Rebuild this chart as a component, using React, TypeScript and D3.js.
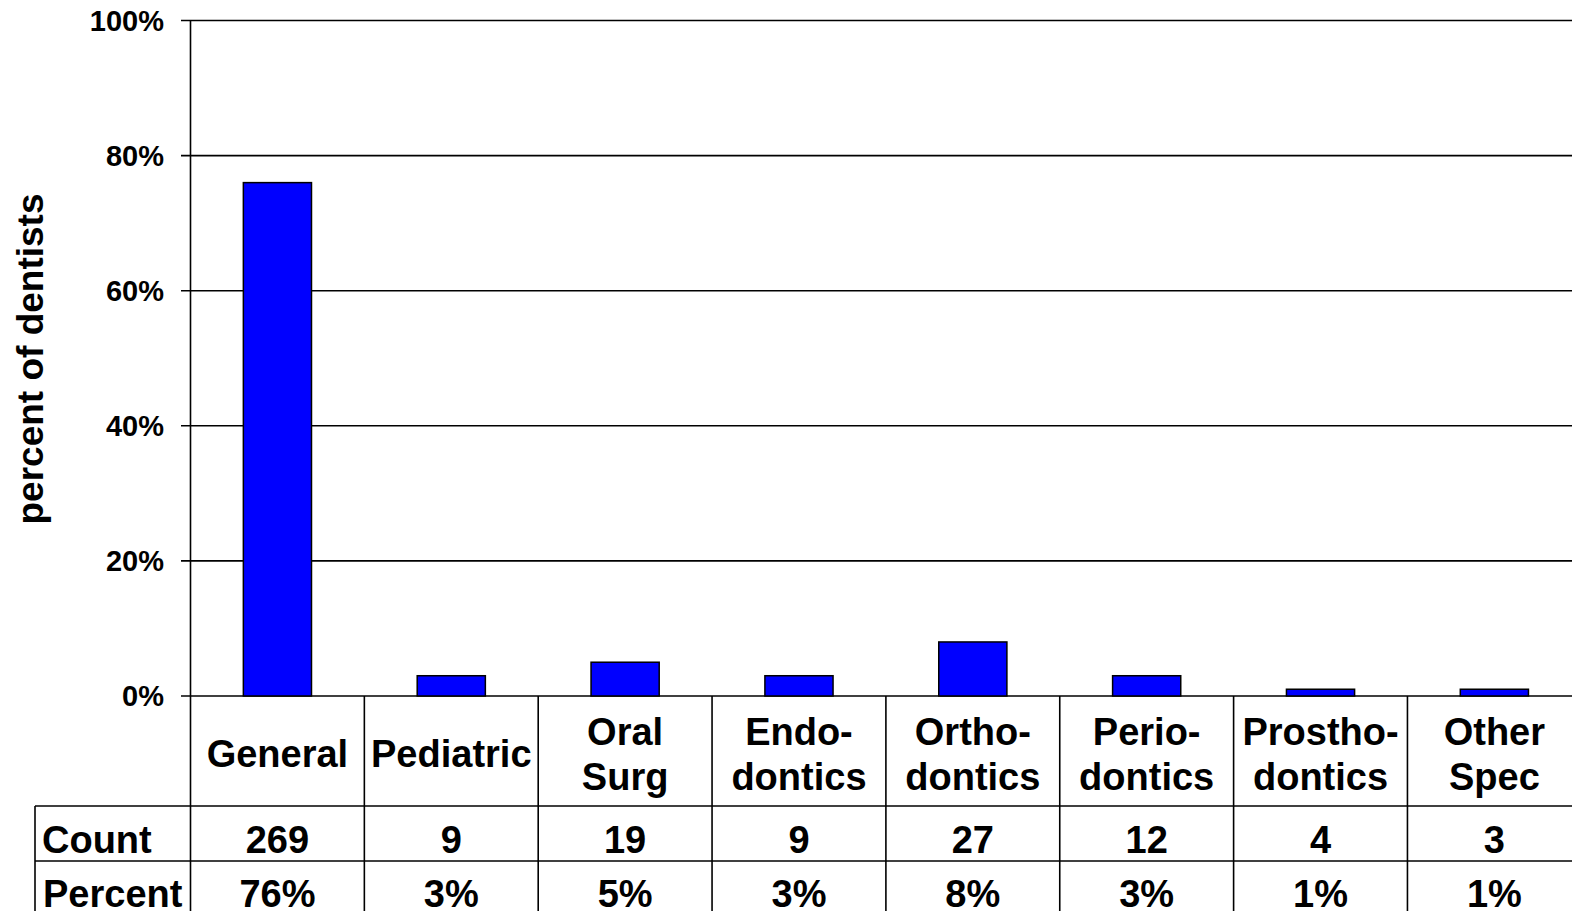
import React from "react"
import { scaleBand, scaleLinear } from "d3"

const categories = ["General", "Pediatric", "Oral Surg", "Endodontics", "Orthodontics", "Periodontics", "Prosthodontics", "Other Spec"]
const labelLines = [
  ["General"],
  ["Pediatric"],
  ["Oral", "Surg"],
  ["Endo-", "dontics"],
  ["Ortho-", "dontics"],
  ["Perio-", "dontics"],
  ["Prostho-", "dontics"],
  ["Other", "Spec"],
]
const counts = [269, 9, 19, 9, 27, 12, 4, 3]
const percents = [76, 3, 5, 3, 8, 3, 1, 1]
const yTicks = [0, 0.2, 0.4, 0.6, 0.8, 1]

const FONT = "'Liberation Sans', Arial, Helvetica, sans-serif"

export default function App() {
  const W = 1572
  const H = 911
  const left = 190.5
  const right = 190.5 + 8 * 173.85
  const top = 20.5
  const zero = 696
  const headBottom = 806
  const countBottom = 861
  const tableLeft = 35

  const x = scaleBand<string>()
    .domain(categories)
    .range([left, right])
    .paddingInner(0.608)
    .paddingOuter(0.304)
  const y = scaleLinear().domain([0, 1]).range([zero, top])
  const step = x.step()
  const bounds = categories.map((_, i) => left + i * step).concat([right])

  return (
    <div style={{ position: "fixed", left: 0, top: 0 }}>
      <svg width={W} height={H} style={{ display: "block", background: "#fff" }} fontFamily={FONT} fontWeight="bold">
        {/* grid + ticks */}
        {yTicks.map(t => (
          <g key={t}>
            <line x1={181} x2={W + 10} y1={y(t)} y2={y(t)} stroke="#000" strokeWidth={1.6} />
            <text x={164} y={y(t)} dy="0.36em" textAnchor="end" fontSize={29}>
              {Math.round(t * 100) + "%"}
            </text>
          </g>
        ))}

        {/* bars */}
        {categories.map((c, i) => (
          <rect
            key={c}
            x={x(c)}
            y={y(percents[i] / 100)}
            width={x.bandwidth()}
            height={zero - y(percents[i] / 100)}
            fill="#0000ff"
            stroke="#000"
            strokeWidth={1.5}
          />
        ))}

        {/* axis line */}
        <line x1={left} x2={left} y1={top} y2={H + 5} stroke="#000" strokeWidth={1.6} />

        {/* table lines */}
        {bounds.slice(1).map((b, i) => (
          <line key={i} x1={b} x2={b} y1={zero} y2={H + 5} stroke="#000" strokeWidth={1.6} />
        ))}
        <line x1={tableLeft} x2={tableLeft} y1={headBottom} y2={H + 5} stroke="#000" strokeWidth={1.6} />
        <line x1={tableLeft} x2={W + 10} y1={headBottom} y2={headBottom} stroke="#000" strokeWidth={1.6} />
        <line x1={tableLeft} x2={W + 10} y1={countBottom} y2={countBottom} stroke="#000" strokeWidth={1.6} />

        {/* category labels */}
        {categories.map((c, i) => {
          const cx = (x(c) as number) + x.bandwidth() / 2
          const lines = labelLines[i]
          const ys = lines.length === 1 ? [753] : [731, 776]
          return (
            <g key={c}>
              {lines.map((l, j) => (
                <text key={j} x={cx} y={ys[j]} dy="0.36em" textAnchor="middle" fontSize={38}>
                  {l}
                </text>
              ))}
              <text x={cx} y={839} dy="0.36em" textAnchor="middle" fontSize={38}>
                {counts[i]}
              </text>
              <text x={cx} y={893} dy="0.36em" textAnchor="middle" fontSize={38}>
                {percents[i] + "%"}
              </text>
            </g>
          )
        })}

        <text x={42} y={839} dy="0.36em" fontSize={38}>Count</text>
        <text x={43} y={893} dy="0.36em" fontSize={38}>Percent</text>

        <text transform={`translate(30, 359) rotate(-90)`} textAnchor="middle" dy="0.36em" fontSize={37}>
          percent of dentists
        </text>
      </svg>
    </div>
  )
}
